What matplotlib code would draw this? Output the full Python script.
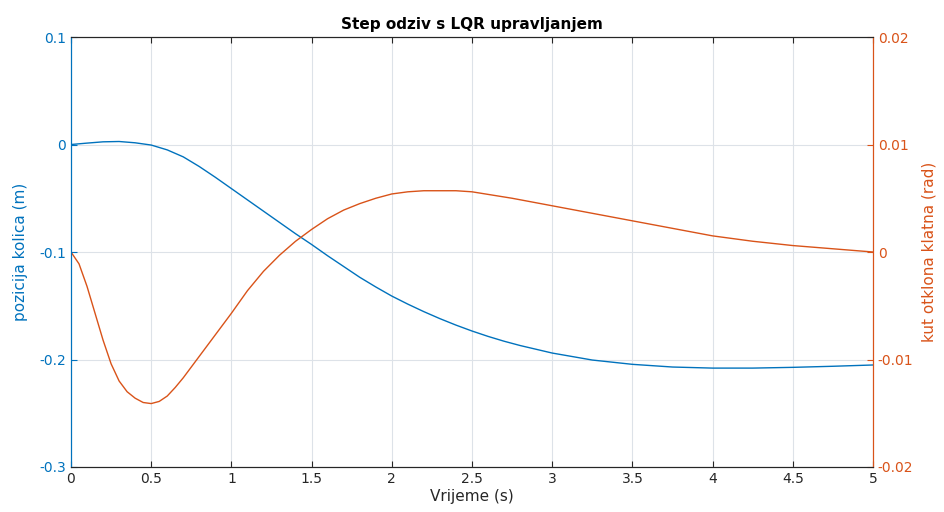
import matplotlib
matplotlib.use('Agg')
import matplotlib.pyplot as plt

plt.rcParams['axes.unicode_minus'] = False
plt.rcParams['font.family'] = 'DejaVu Sans'

# vrijeme (s) i odziv, ocitano sa slike
t_x = [0, 0.1, 0.2, 0.3, 0.4, 0.5, 0.6, 0.7, 0.8, 0.9, 1.0, 1.1, 1.2, 1.3, 1.4,
       1.5, 1.6, 1.7, 1.8, 1.9, 2.0, 2.1, 2.2, 2.3, 2.4, 2.5, 2.6, 2.7, 2.8, 2.9,
       3.0, 3.25, 3.5, 3.75, 4.0, 4.25, 4.5, 4.75, 5.0]
pozicija = [0, 0.0013, 0.0025, 0.0028, 0.0016, -0.0005, -0.0050, -0.0115, -0.0205, -0.0305,
            -0.0410, -0.0515, -0.0620, -0.0725, -0.0830, -0.0930, -0.1035, -0.1135, -0.1235,
            -0.1325, -0.1410, -0.1485, -0.1555, -0.1620, -0.1680, -0.1735, -0.1785, -0.1830,
            -0.1870, -0.1905, -0.1940, -0.2005, -0.2045, -0.2070, -0.2080, -0.2080, -0.2073,
            -0.2063, -0.2051]

t_kut = [0, 0.05, 0.1, 0.15, 0.2, 0.25, 0.3, 0.35, 0.4, 0.45, 0.5, 0.55, 0.6, 0.65,
         0.7, 0.75, 0.8, 0.85, 0.9, 0.95, 1.0, 1.1, 1.2, 1.3, 1.4, 1.5, 1.6, 1.7, 1.8,
         1.9, 2.0, 2.1, 2.2, 2.3, 2.4, 2.5, 2.75, 3.0, 3.25, 3.5, 3.75, 4.0, 4.25, 4.5,
         4.75, 5.0]
kut = [0, -0.0011, -0.0032, -0.0057, -0.0082, -0.0104, -0.0120, -0.0130, -0.0136,
       -0.0140, -0.0141, -0.0139, -0.0134, -0.0126, -0.0117, -0.0107, -0.0097, -0.0087,
       -0.0077, -0.0067, -0.0057, -0.0036, -0.0018, -0.0003, 0.0010, 0.0021, 0.0031,
       0.0039, 0.0045, 0.0050, 0.0054, 0.0056, 0.0057, 0.0057, 0.0057, 0.0056, 0.0050,
       0.0043, 0.0036, 0.0029, 0.0022, 0.0015, 0.0010, 0.0006, 0.0003, 0.0]

x_ticks = [0, 0.5, 1, 1.5, 2, 2.5, 3, 3.5, 4, 4.5, 5]
x_labels = ['0', '0.5', '1', '1.5', '2', '2.5', '3', '3.5', '4', '4.5', '5']
y1_ticks = [-0.3, -0.2, -0.1, 0, 0.1]
y1_labels = ['-0.3', '-0.2', '-0.1', '0', '0.1']
y2_ticks = [-0.02, -0.01, 0, 0.01, 0.02]
y2_labels = ['-0.02', '-0.01', '0', '0.01', '0.02']

plava = '#0072BD'
narancasta = '#D95319'

fig = plt.figure(figsize=(9.44, 5.12), dpi=100)
ax = fig.add_axes([0.0752, 0.0879, 0.8496, 0.8398])
ax2 = ax.twinx()

ax.plot(t_x, pozicija, color=plava, lw=1.0)
ax2.plot(t_kut, kut, color=narancasta, lw=1.0)

ax.set_xlim(0, 5)
ax.set_ylim(-0.3, 0.1)
ax2.set_ylim(-0.02, 0.02)

ax.set_xticks(x_ticks)
ax.set_xticklabels(x_labels)
ax.set_yticks(y1_ticks)
ax.set_yticklabels(y1_labels)
ax2.set_yticks(y2_ticks)
ax2.set_yticklabels(y2_labels)

ax.grid(True, color='#dde2e8', lw=0.8)
ax.set_axisbelow(True)

ax.tick_params(axis='x', direction='in', top=True, labelsize=10, colors='#262626', length=4)
ax.tick_params(axis='y', direction='in', labelsize=10, colors=plava, length=4)
ax2.tick_params(axis='y', direction='in', labelsize=10, colors=narancasta, length=4)

for a in (ax, ax2):
    a.spines['top'].set_color('#262626')
    a.spines['bottom'].set_color('#262626')
    a.spines['left'].set_color(plava)
    a.spines['right'].set_color(narancasta)

ax.set_xlabel('Vrijeme (s)', fontsize=11, color='#262626', labelpad=2)
ax.set_ylabel('pozicija kolica (m)', fontsize=11, color=plava, labelpad=8)
ax2.set_ylabel('kut otklona klatna (rad)', fontsize=11, color=narancasta, labelpad=6)
ax.set_title('Step odziv s LQR upravljanjem', fontsize=11, fontweight='bold', pad=6)

fig.savefig('out.png', dpi=100)
